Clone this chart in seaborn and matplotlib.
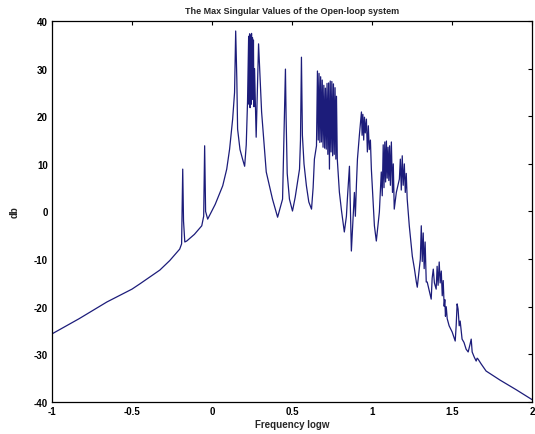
import matplotlib
matplotlib.use("Agg")
import matplotlib.pyplot as plt
import pandas as pd
import seaborn as sns

# frequency (log10 w) and max singular value (dB)
logw = [
    -1.000, -0.830, -0.657, -0.500, -0.451, -0.326, -0.264, -0.202, -0.190, -0.183,
    -0.178, -0.170, -0.158, -0.110, -0.064, -0.052, -0.046, -0.040, -0.027, 0.020,
    0.067, 0.092, 0.110, 0.129, 0.141, 0.148, 0.155, 0.160, 0.175, 0.191,
    0.204, 0.214, 0.222, 0.229, 0.232, 0.235, 0.238, 0.241, 0.244, 0.247,
    0.250, 0.253, 0.256, 0.259, 0.262, 0.266, 0.276, 0.291, 0.310, 0.339,
    0.378, 0.410, 0.441, 0.459, 0.463, 0.470, 0.484, 0.503, 0.520, 0.547,
    0.553, 0.559, 0.565, 0.575, 0.590, 0.605, 0.622, 0.632, 0.640, 0.653,
    0.659, 0.664, 0.669, 0.674, 0.679, 0.684, 0.689, 0.694, 0.699, 0.704,
    0.709, 0.714, 0.719, 0.724, 0.729, 0.734, 0.739, 0.744, 0.749, 0.754,
    0.759, 0.764, 0.769, 0.774, 0.778,
    0.783, 0.796, 0.810, 0.827, 0.840, 0.846, 0.859, 0.871, 0.884, 0.890,
    0.896, 0.903, 0.909, 0.921, 0.934, 0.938, 0.943, 0.948, 0.953, 0.958,
    0.965, 0.971, 0.977, 0.983, 0.990, 0.996, 1.015, 1.027, 1.046, 1.058,
    1.064, 1.070, 1.075, 1.080, 1.085, 1.090, 1.095, 1.100, 1.105, 1.110,
    1.115, 1.121, 1.128, 1.133, 1.139, 1.152, 1.171, 1.177, 1.183, 1.189,
    1.195, 1.202, 1.208, 1.214, 1.220, 1.233, 1.252, 1.265, 1.277, 1.283,
    1.296, 1.302, 1.308, 1.314, 1.320, 1.326, 1.332, 1.339, 1.345, 1.358,
    1.370, 1.376, 1.383, 1.390, 1.401, 1.407, 1.413, 1.420, 1.426, 1.433,
    1.439, 1.445, 1.451, 1.455, 1.459, 1.464, 1.470, 1.482, 1.501, 1.520,
    1.526, 1.532, 1.538, 1.545, 1.551, 1.563, 1.575, 1.588, 1.601, 1.612,
    1.620, 1.626, 1.638, 1.651, 1.657, 1.663, 1.682, 1.713, 1.800, 1.900,
    2.000,
]
db = [
    -25.7, -22.5, -19.0, -16.3, -15.2, -12.3, -10.3, -7.9, -6.8, 8.9,
    -2.0, -6.4, -6.2, -4.8, -3.0, -1.0, 13.8, 0.0, -1.6, 1.5,
    5.4, 8.9, 13.1, 19.4, 25.0, 37.9, 28.0, 17.3, 13.0, 11.0,
    9.5, 14.0, 23.0, 36.8, 22.5, 37.3, 21.8, 37.0, 22.5, 37.4,
    23.5, 36.5, 24.0, 36.0, 22.0, 30.0, 15.6, 35.2, 20.9, 8.3,
    2.6, -1.2, 2.6, 29.9, 20.0, 8.0, 2.6, 0.1, 3.0, 8.9,
    15.0, 32.4, 16.0, 10.0, 5.4, 2.0, 0.5, 5.0, 11.0, 13.8,
    29.5, 15.0, 29.0, 14.5, 28.3, 14.6, 27.6, 13.5, 26.5, 13.3,
    25.9, 13.1, 26.9, 12.0, 27.0, 8.9, 27.4, 12.5, 27.3, 11.7,
    26.8, 12.0, 26.0, 11.0, 24.2,
    11.0, 4.1, 0.0, -4.3, -1.0, 2.6, 9.5, -8.3, 0.0, 4.0,
    -1.0, 6.0, 11.0, 16.0, 20.9, 16.0, 20.4, 15.0, 19.8, 16.5,
    19.4, 12.5, 18.0, 13.0, 15.0, 8.9, -3.0, -6.2, -0.1, 8.3,
    3.3, 14.0, 5.0, 14.6, 6.2, 14.8, 7.0, 13.5, 6.5, 13.8,
    5.5, 14.6, 4.0, 10.0, 0.5, 4.0, 6.8, 11.0, 4.5, 11.7,
    5.5, 10.0, 4.0, 8.0, 2.6, -3.0, -9.4, -12.0, -14.8, -15.9,
    -12.0, -10.0, -3.0, -10.5, -4.5, -12.0, -6.4, -14.8, -14.8, -16.7,
    -18.4, -14.0, -12.1, -15.0, -16.3, -11.5, -15.5, -10.6, -15.0, -12.5,
    -17.7, -14.5, -19.9, -18.5, -22.0, -20.0, -22.5, -24.0, -25.3, -27.2,
    -24.0, -19.4, -20.5, -24.0, -23.0, -26.8, -27.5, -28.9, -29.5, -28.0,
    -26.8, -29.5, -30.5, -31.4, -30.8, -31.0, -32.0, -33.5, -35.4, -37.4,
    -39.5,
]
xtick_vals = [-1, -0.5, 0, 0.5, 1, 1.5, 2]
xtick_labels = ["-1", "-0.5", "0", "0.5", "1", "1.5", "2"]
ytick_vals = [-40, -30, -20, -10, 0, 10, 20, 30, 40]

df = pd.DataFrame({"logw": logw, "db": db})

sns.set_style("white")
plt.rcParams["font.family"] = ["Liberation Sans", "DejaVu Sans"]
plt.rcParams["axes.unicode_minus"] = False

fig = plt.figure(figsize=(5.35, 4.35), dpi=100)
ax = fig.add_axes([0.0972, 0.0736, 0.8972, 0.8758])
sns.lineplot(data=df, x="logw", y="db", sort=False, estimator=None,
             color="#1c1c7a", linewidth=0.9, ax=ax)

ax.set_xlim(-1, 2)
ax.set_ylim(-40, 40)
ax.set_xticks(xtick_vals)
ax.set_xticklabels(xtick_labels)
ax.set_yticks(ytick_vals)
ax.tick_params(direction="in", length=3, width=0.8, top=True, right=True,
               labelsize=7, pad=3, colors="black")
for lab in ax.get_xticklabels() + ax.get_yticklabels():
    lab.set_fontweight("bold")
for s in ax.spines.values():
    s.set_color("black")
    s.set_linewidth(0.9)

ax.set_title("The Max Singular Values of the Open-loop system",
             fontsize=6.5, fontweight="bold", pad=6)
ax.set_xlabel("Frequency logw", fontsize=7, fontweight="bold", labelpad=2)
ax.set_ylabel("db", fontsize=7, fontweight="bold", labelpad=10)

fig.savefig("out.png", dpi=100)
